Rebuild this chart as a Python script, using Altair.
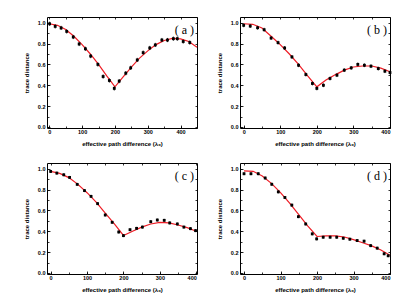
import altair as alt
import pandas as pd

# ---- panel (a) ----
a_x = [1, 18, 36, 53, 73, 91, 110, 126, 148, 164, 183, 198, 213, 233, 248, 268, 286, 306, 323, 343, 360, 378, 390, 408, 428]
a_y = [0.99, 0.965, 0.95, 0.917, 0.863, 0.796, 0.75, 0.68, 0.60, 0.484, 0.446, 0.37, 0.44, 0.516, 0.567, 0.643,
       0.713, 0.758, 0.787, 0.834, 0.834, 0.847, 0.847, 0.82, 0.81]
a_err = [0.02] * len(a_x)
a_cx = [0, 25, 50, 75, 100, 125, 150, 175, 200, 225, 250, 275, 300, 325, 350, 375, 400, 425, 450]
a_cy = [0.99, 0.975, 0.935, 0.87, 0.79, 0.70, 0.60, 0.49, 0.385, 0.48, 0.575, 0.66, 0.73, 0.79, 0.83, 0.85,
        0.845, 0.82, 0.765]

# ---- panel (b) ----
b_x = [0, 18, 38, 56, 75, 94, 112, 132, 150, 170, 188, 200, 218, 236, 255, 275, 294, 312, 330, 348, 368, 386, 400]
b_y = [0.975, 0.968, 0.952, 0.933, 0.853, 0.809, 0.758, 0.672, 0.592, 0.503, 0.417, 0.37, 0.40, 0.465, 0.497,
       0.545, 0.567, 0.60, 0.592, 0.583, 0.56, 0.535, 0.522]
b_err = [0.018] * len(b_x)
b_cx = [0, 25, 50, 75, 100, 125, 150, 175, 200, 225, 250, 275, 300, 325, 350, 375, 400]
b_cy = [0.99, 0.985, 0.95, 0.87, 0.79, 0.70, 0.60, 0.49, 0.385, 0.45, 0.50, 0.545, 0.575, 0.585, 0.585, 0.565, 0.53]

# ---- panel (c) ----
c_x = [0, 17, 36, 52, 73, 93, 111, 129, 150, 169, 187, 200, 218, 236, 252, 275, 293, 312, 327, 348, 366, 384, 398]
c_y = [0.974, 0.958, 0.942, 0.917, 0.85, 0.79, 0.735, 0.665, 0.556, 0.486, 0.393, 0.358, 0.415, 0.428, 0.44,
       0.492, 0.508, 0.505, 0.48, 0.47, 0.44, 0.425, 0.406]
c_err = [0.014] * len(c_x)
c_cx = [0, 25, 50, 75, 100, 125, 150, 175, 200, 225, 250, 275, 300, 325, 350, 375, 400]
c_cy = [0.975, 0.955, 0.915, 0.85, 0.77, 0.68, 0.575, 0.47, 0.36, 0.40, 0.44, 0.47, 0.485, 0.48, 0.46, 0.435, 0.40]

# ---- panel (d) ----
d_x = [0, 19, 39, 58, 76, 94, 112, 131, 149, 169, 187, 199, 217, 236, 254, 272, 290, 310, 329, 347, 365, 384, 395]
d_y = [0.952, 0.952, 0.952, 0.911, 0.851, 0.778, 0.724, 0.651, 0.54, 0.47, 0.375, 0.327, 0.343, 0.343, 0.343,
       0.333, 0.324, 0.311, 0.305, 0.262, 0.238, 0.184, 0.165]
d_err = [0.014] * len(d_x)
d_cx = [0, 25, 50, 75, 100, 125, 150, 175, 200, 225, 250, 275, 300, 325, 350, 375, 400]
d_cy = [0.98, 0.975, 0.93, 0.86, 0.77, 0.67, 0.56, 0.45, 0.35, 0.355, 0.355, 0.345, 0.32, 0.29, 0.26, 0.22, 0.17]

x_major = [0, 100, 200, 300, 400]
x_minor = [0, 50, 100, 150, 200, 250, 300, 350, 400, 450]
y_major = [0.0, 0.2, 0.4, 0.6, 0.8, 1.0]
y_minor = [0.0, 0.1, 0.2, 0.3, 0.4, 0.5, 0.6, 0.7, 0.8, 0.9, 1.0]

W, H = 150, 111


def make_panel(label, px, py, perr, cx, cy, xdom):
    pts = pd.DataFrame({"x": px, "y": py,
                        "lo": [v - e for v, e in zip(py, perr)],
                        "hi": [v + e for v, e in zip(py, perr)]})
    crv = pd.DataFrame({"x": cx, "y": cy})
    xs = alt.Scale(domain=xdom, nice=False, zero=False)
    ys = alt.Scale(domain=[-0.01, 1.055], nice=False, zero=False)

    line = alt.Chart(crv).mark_line(color="#ee1c25", strokeWidth=1.2).encode(
        x=alt.X("x:Q", scale=xs, axis=alt.Axis(
            orient="bottom", values=x_major, title="effective path difference (λ₀)",
            offset=-3, tickSize=3, domain=False, labelPadding=1, titlePadding=6, grid=False)),
        y=alt.Y("y:Q", scale=ys, axis=alt.Axis(
            orient="left", values=y_major, format=".1f", title="trace distance",
            offset=-3, tickSize=3, domain=False, labelPadding=2, titlePadding=8, grid=False)),
    )
    err = alt.Chart(pts).mark_rule(color="black", strokeWidth=0.9).encode(
        x=alt.X("x:Q", scale=xs, axis=alt.Axis(
            orient="top", values=x_minor, labels=False, title=None,
            offset=-2, tickSize=2, domain=False, grid=False)),
        y=alt.Y("lo:Q", scale=ys, axis=alt.Axis(
            orient="right", values=y_minor, labels=False, title=None,
            offset=-2, tickSize=2, domain=False, grid=False)),
        y2="hi:Q",
    )
    dots = alt.Chart(pts).mark_square(color="black", size=8, opacity=1).encode(
        x=alt.X("x:Q", scale=xs, axis=alt.Axis(
            orient="bottom", values=x_minor, labels=False, title=None,
            offset=-2, tickSize=2, domain=False, grid=False)),
        y=alt.Y("y:Q", scale=ys, axis=alt.Axis(
            orient="left", values=y_minor, labels=False, title=None,
            offset=-2, tickSize=2, domain=False, grid=False)),
    )
    txt = alt.Chart(pd.DataFrame({"t": [label]})).mark_text(
        font="Liberation Serif", fontSize=12, color="black", align="right", baseline="middle"
    ).encode(x=alt.value(W - 3), y=alt.value(13), text="t:N")

    return alt.layer(line, err, dots, txt).resolve_axis(
        x="independent", y="independent").properties(width=W, height=H)


pa = make_panel("( a )", a_x, a_y, a_err, a_cx, a_cy, [-7, 450])
pb = make_panel("( b )", b_x, b_y, b_err, b_cx, b_cy, [-10, 400])
pc = make_panel("( c )", c_x, c_y, c_err, c_cx, c_cy, [-10, 402])
pd_ = make_panel("( d )", d_x, d_y, d_err, d_cx, d_cy, [-11, 400])

chart = alt.vconcat(
    alt.hconcat(pa, pb, spacing=15),
    alt.hconcat(pc, pd_, spacing=15),
    spacing=15,
).properties(
    padding={"left": 14, "top": 8, "right": 5, "bottom": 5},
    background="white",
).configure_view(
    stroke="black", strokeWidth=1
).configure_axis(
    labelFont="Liberation Sans", labelFontSize=5.5, labelFontWeight="bold", labelColor="black",
    titleFont="Liberation Sans", titleFontSize=6, titleFontWeight="bold", titleColor="black",
    tickColor="black", tickWidth=0.8
)

chart.save("out.html", embed_options={"renderer": "svg", "actions": False})
